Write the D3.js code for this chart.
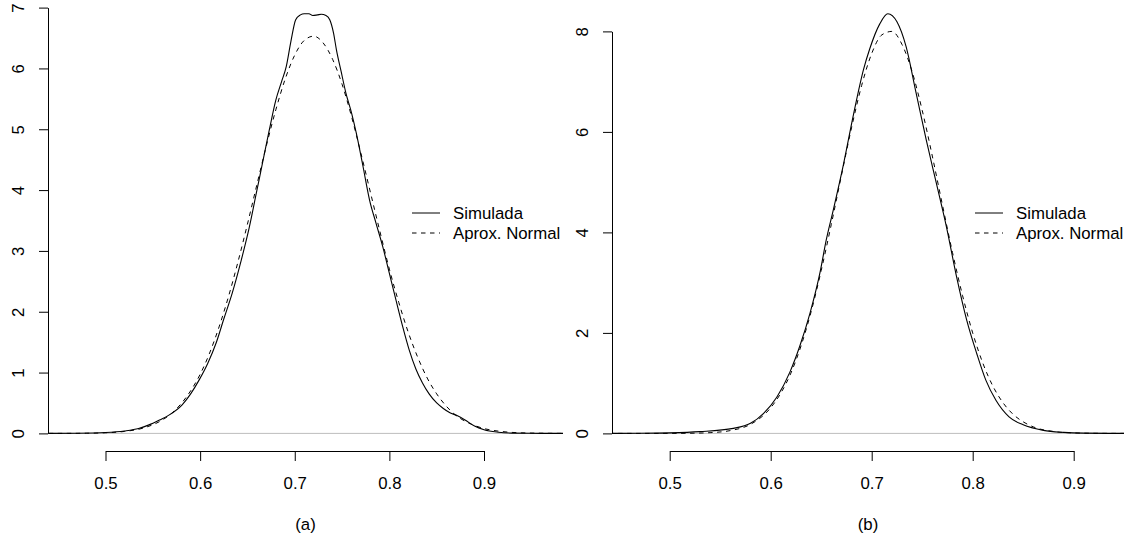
<!DOCTYPE html>
<html>
<head>
<meta charset="utf-8">
<script src="https://cdn.jsdelivr.net/npm/d3@7"></script>
<style>
  html, body { margin: 0; padding: 0; background: #ffffff; }
  svg { display: block; }
  text { font-family: "Liberation Sans", Arial, Helvetica, sans-serif; fill: #000; }
</style>
</head>
<body>
<svg id="chart" width="1127" height="535"></svg>
<script>
// ---- Panel (a): simulated density vs. normal approximation ----
const simA_x = [0.440, 0.470, 0.500, 0.520, 0.535, 0.546, 0.557, 0.567, 0.581, 0.590,
                0.599, 0.608, 0.617, 0.625, 0.634, 0.643, 0.652, 0.659, 0.666, 0.673,
                0.680, 0.686, 0.691, 0.696, 0.701, 0.706, 0.710, 0.715, 0.719, 0.724,
                0.728, 0.733, 0.737, 0.741, 0.744, 0.749, 0.754, 0.760, 0.765, 0.772,
                0.779, 0.786, 0.793, 0.800, 0.807, 0.814, 0.821, 0.828, 0.835, 0.842,
                0.850, 0.857, 0.864, 0.872, 0.880, 0.890, 0.900, 0.915, 0.930, 0.960, 0.990];
const simA_y = [0.000, 0.003, 0.015, 0.040, 0.080, 0.140, 0.220, 0.300, 0.470, 0.650,
                0.880, 1.150, 1.490, 1.880, 2.310, 2.820, 3.390, 3.920, 4.450, 4.980,
                5.480, 5.780, 6.030, 6.450, 6.800, 6.880, 6.900, 6.900, 6.870, 6.880,
                6.890, 6.870, 6.800, 6.580, 6.310, 5.950, 5.600, 5.270, 4.940, 4.400,
                3.840, 3.450, 3.070, 2.630, 2.190, 1.760, 1.370, 1.060, 0.830, 0.650,
                0.500, 0.410, 0.340, 0.290, 0.220, 0.120, 0.060, 0.020, 0.005, 0.001, 0.000];

const normA_x = [0.44, 0.46, 0.48, 0.50, 0.52, 0.54, 0.56, 0.57, 0.58, 0.59,
                 0.60, 0.61, 0.62, 0.63, 0.64, 0.65, 0.66, 0.67, 0.68, 0.69,
                 0.70, 0.71, 0.72, 0.73, 0.74, 0.75, 0.76, 0.77, 0.78, 0.79,
                 0.80, 0.81, 0.82, 0.83, 0.84, 0.85, 0.86, 0.87, 0.88, 0.89,
                 0.90, 0.92, 0.94, 0.96, 0.98, 1.00];
const normA_y = [0.0002, 0.0008, 0.003, 0.010, 0.032, 0.088, 0.22, 0.33, 0.49, 0.70,
                 0.97, 1.32, 1.75, 2.25, 2.82, 3.44, 4.09, 4.73, 5.32, 5.83,
                 6.22, 6.46, 6.53, 6.42, 6.15, 5.74, 5.21, 4.60, 3.96, 3.32,
                 2.70, 2.15, 1.66, 1.25, 0.91, 0.65, 0.45, 0.30, 0.20, 0.13,
                 0.080, 0.029, 0.009, 0.003, 0.0007, 0.0001];

// ---- Panel (b) ----
const simB_x = [0.440, 0.470, 0.500, 0.530, 0.563, 0.580, 0.593, 0.606, 0.619, 0.629,
                0.639, 0.649, 0.655, 0.662, 0.672, 0.682, 0.692, 0.698, 0.708, 0.716,
                0.725, 0.734, 0.744, 0.754, 0.764, 0.774, 0.784, 0.794, 0.804, 0.813,
                0.823, 0.836, 0.850, 0.870, 0.890, 0.910, 0.950];
const simB_y = [0.000, 0.002, 0.010, 0.035, 0.100, 0.200, 0.400, 0.720, 1.220, 1.750,
                2.400, 3.220, 3.850, 4.450, 5.350, 6.350, 7.250, 7.650, 8.150, 8.350,
                8.190, 7.700, 6.770, 5.840, 4.980, 4.110, 3.120, 2.260, 1.590, 1.060,
                0.660, 0.330, 0.170, 0.060, 0.020, 0.005, 0.000];

const normB_x = [0.44, 0.48, 0.50, 0.52, 0.54, 0.56, 0.58, 0.60, 0.61, 0.62,
                 0.63, 0.64, 0.65, 0.66, 0.67, 0.68, 0.69, 0.70, 0.71, 0.72,
                 0.73, 0.74, 0.75, 0.76, 0.77, 0.78, 0.79, 0.80, 0.81, 0.82,
                 0.83, 0.84, 0.85, 0.86, 0.88, 0.90, 0.92, 0.94, 0.96];
const normB_y = [0.0000, 0.0001, 0.0006, 0.0032, 0.015, 0.056, 0.18, 0.51, 0.80, 1.20,
                 1.74, 2.42, 3.24, 4.16, 5.13, 6.08, 6.92, 7.56, 7.93, 8.00,
                 7.74, 7.20, 6.43, 5.52, 4.55, 3.60, 2.74, 2.00, 1.40, 0.94,
                 0.61, 0.38, 0.23, 0.13, 0.038, 0.0097, 0.002, 0.0004, 0.0000];

// ---- Axis ticks, legend and captions ----
const xTicks = [0.5, 0.6, 0.7, 0.8, 0.9];
const yTicksA = [0, 1, 2, 3, 4, 5, 6, 7];
const yTicksB = [0, 2, 4, 6, 8];
const legendLabels = ["Simulada", "Aprox. Normal"];
const captions = ["(a)", "(b)"];

const svg = d3.select("#chart");
const zip = (xs, ys) => xs.map((x, i) => [x, ys[i]]);

const panels = [
  {
    id: "a", caption: captions[0],
    sim: zip(simA_x, simA_y), norm: zip(normA_x, normA_y),
    yTicks: yTicksA, yMax: 7,
    xRange: [105.5, 484], yRange: [433.4, 7.6],
    plotLeft: 48, plotRight: 563,
    legendX: 412
  },
  {
    id: "b", caption: captions[1],
    sim: zip(simB_x, simB_y), norm: zip(normB_x, normB_y),
    yTicks: yTicksB, yMax: 8,
    xRange: [669.7, 1073.7], yRange: [433.4, 31.4],
    plotLeft: 612, plotRight: 1124,
    legendX: 975
  }
];

const axisY = 451;       // vertical position of the x axis line
const fontSize = 16.8;

panels.forEach(p => {
  const x = d3.scaleLinear().domain([0.5, 0.9]).range(p.xRange);
  const y = d3.scaleLinear().domain([0, p.yMax]).range(p.yRange);
  const g = svg.append("g").attr("class", "panel-" + p.id);

  // clip curves to the plotting region
  const clipId = "clip-" + p.id;
  svg.append("defs").append("clipPath").attr("id", clipId)
    .append("rect")
    .attr("x", p.plotLeft).attr("y", 0)
    .attr("width", p.plotRight - p.plotLeft).attr("height", axisY);

  // grey reference line at density zero
  g.append("line")
    .attr("x1", p.plotLeft).attr("x2", p.plotRight)
    .attr("y1", y(0)).attr("y2", y(0))
    .attr("stroke", "#bebebe").attr("stroke-width", 1);

  const line = d3.line()
    .x(d => x(d[0])).y(d => y(d[1]))
    .curve(d3.curveMonotoneX);

  const curves = g.append("g").attr("clip-path", `url(#${clipId})`);
  curves.append("path").datum(p.norm)
    .attr("d", line).attr("fill", "none")
    .attr("stroke", "#000").attr("stroke-width", 1)
    .attr("stroke-dasharray", "4.5,4.5");
  curves.append("path").datum(p.sim)
    .attr("d", line).attr("fill", "none")
    .attr("stroke", "#000").attr("stroke-width", 1.1);

  // x axis
  const xAxis = d3.axisBottom(x).tickValues(xTicks)
    .tickFormat(d3.format(".1f")).tickSize(10).tickSizeOuter(0).tickPadding(16);
  const gx = g.append("g").attr("transform", `translate(0,${axisY})`).call(xAxis);
  gx.selectAll("path, line").attr("stroke", "#000");
  gx.selectAll("text").style("font-size", fontSize + "px").attr("fill", "#000");

  // y axis with rotated labels
  const yAxis = d3.axisLeft(y).tickValues(p.yTicks)
    .tickFormat(d3.format("d")).tickSize(9).tickSizeOuter(0);
  const gy = g.append("g").attr("transform", `translate(${p.plotLeft},0)`).call(yAxis);
  gy.selectAll("path, line").attr("stroke", "#000");
  gy.selectAll("text")
    .attr("x", null).attr("dy", "0.35em")
    .attr("text-anchor", "middle")
    .attr("transform", "translate(-29.5,0) rotate(-90)")
    .style("font-size", fontSize + "px").attr("fill", "#000");

  // caption below the axis
  g.append("text")
    .attr("x", (p.plotLeft + p.plotRight) / 2).attr("y", 524)
    .attr("dy", "0.35em").attr("text-anchor", "middle")
    .style("font-size", fontSize + "px")
    .text(p.caption);

  // legend
  const leg = g.append("g").attr("class", "legend");
  legendLabels.forEach((lab, i) => {
    const ly = 213 + i * 20;
    leg.append("line")
      .attr("x1", p.legendX).attr("x2", p.legendX + 28)
      .attr("y1", ly).attr("y2", ly)
      .attr("stroke", "#000").attr("stroke-width", 1)
      .attr("stroke-dasharray", i === 1 ? "4.5,4.5" : null);
    leg.append("text")
      .attr("x", p.legendX + 41).attr("y", ly)
      .attr("dy", "0.35em")
      .style("font-size", fontSize + "px")
      .text(lab);
  });
});
</script>
</body>
</html>
